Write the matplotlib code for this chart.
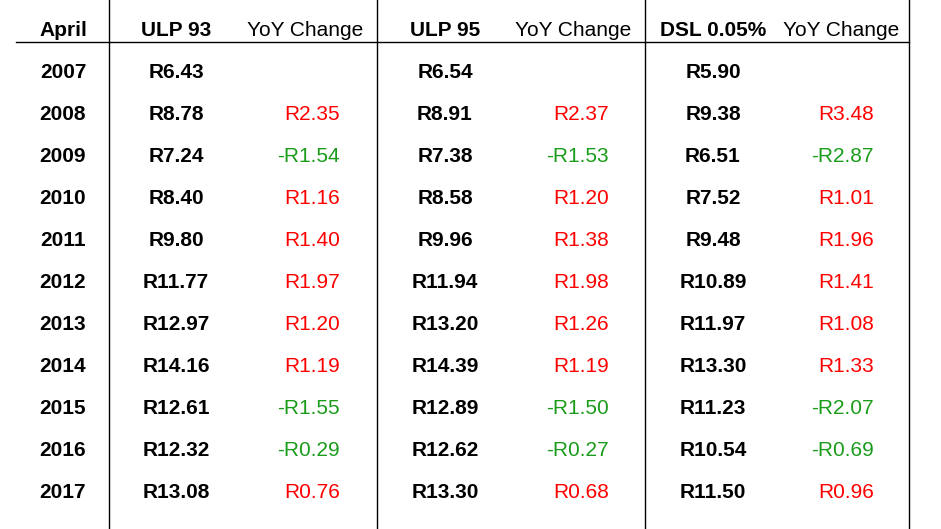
import matplotlib.pyplot as plt

years = ["2007", "2008", "2009", "2010", "2011", "2012", "2013", "2014", "2015", "2016", "2017"]
ulp93 = ["R6.43", "R8.78", "R7.24", "R8.40", "R9.80", "R11.77", "R12.97", "R14.16", "R12.61", "R12.32", "R13.08"]
ulp93_chg = [None, 2.35, -1.54, 1.16, 1.40, 1.97, 1.20, 1.19, -1.55, -0.29, 0.76]
ulp95 = ["R6.54", "R8.91", "R7.38", "R8.58", "R9.96", "R11.94", "R13.20", "R14.39", "R12.89", "R12.62", "R13.30"]
ulp95_chg = [None, 2.37, -1.53, 1.20, 1.38, 1.98, 1.26, 1.19, -1.50, -0.27, 0.68]
dsl = ["R5.90", "R9.38", "R6.51", "R7.52", "R9.48", "R10.89", "R11.97", "R13.30", "R11.23", "R10.54", "R11.50"]
dsl_chg = [None, 3.48, -2.87, 1.01, 1.96, 1.41, 1.08, 1.33, -2.07, -0.69, 0.96]

W, H = 941, 529
fig = plt.figure(figsize=(W / 100, H / 100), dpi=100)
ax = fig.add_axes([0, 0, 1, 1])
ax.set_xlim(0, W)
ax.set_ylim(H, 0)
ax.axis("off")

font = "Liberation Sans"
fs = 15
red, green = "#ff0000", "#1a9c1a"

def fmt(v):
    return ("-R%.2f" % -v) if v < 0 else ("R%.2f" % v)

# header
hy = 31
ax.text(63, hy, "April", ha="center", va="center", fontsize=fs, fontweight="bold", family=font)
for cx, name in [(176, "ULP 93"), (445, "ULP 95"), (713, "DSL 0.05%")]:
    ax.text(cx, hy, name, ha="center", va="center", fontsize=fs, fontweight="bold", family=font)
for cx in [305, 573, 841]:
    ax.text(cx, hy, "YoY Change", ha="center", va="center", fontsize=fs, family=font)

# lines
ax.plot([16, 909], [42, 42], color="black", lw=1)
for x in [109, 377, 645, 909]:
    ax.plot([x, x], [0, H], color="black", lw=1)

for i, yr in enumerate(years):
    y = 73 + 42 * i
    ax.text(63, y, yr, ha="center", va="center", fontsize=fs, fontweight="bold", family=font)
    for cx, rx, vals, chg in [(176, 340, ulp93, ulp93_chg), (445, 609, ulp95, ulp95_chg), (713, 874, dsl, dsl_chg)]:
        ax.text(cx, y, vals[i], ha="center", va="center", fontsize=fs, fontweight="bold", family=font)
        if chg[i] is not None:
            ax.text(rx, y, fmt(chg[i]), ha="right", va="center", fontsize=fs, family=font,
                    color=red if chg[i] > 0 else green)

fig.savefig("out.png", dpi=100)
